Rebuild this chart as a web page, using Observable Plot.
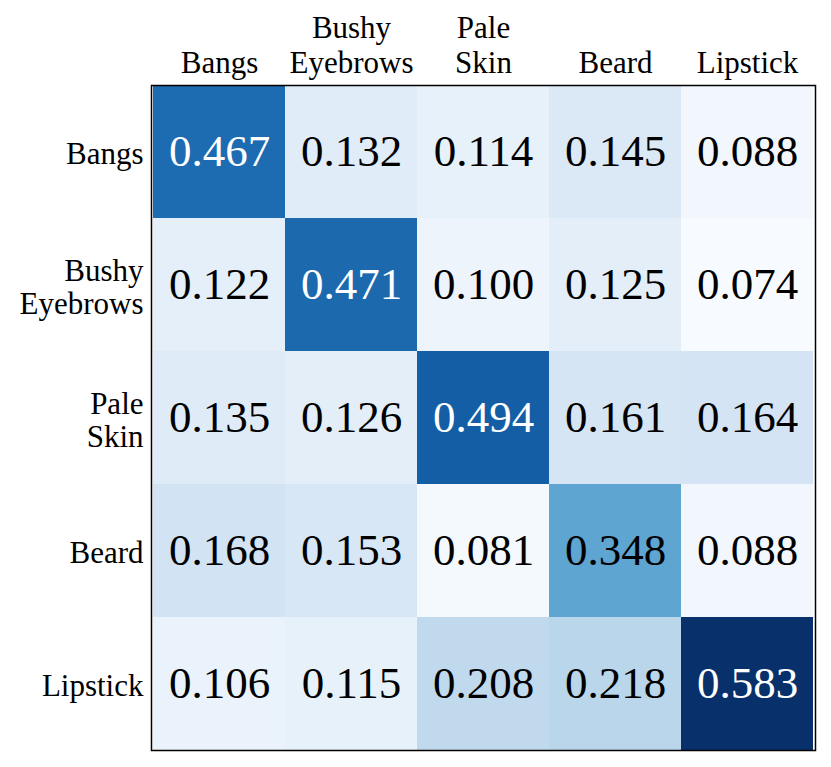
<!DOCTYPE html>
<html><head><meta charset="utf-8">
<script src="https://cdn.jsdelivr.net/npm/d3@7"></script>
<script src="https://cdn.jsdelivr.net/npm/@observablehq/plot@0.6"></script>
<style>body{margin:0;background:#fff;}</style>
</head><body><div id="chart"></div>
<script>
const categories = ["Bangs", "Bushy Eyebrows", "Pale Skin", "Beard", "Lipstick"];
const tickLabels = ["Bangs", "Bushy\nEyebrows", "Pale\nSkin", "Beard", "Lipstick"];
const rowBangs = [0.467, 0.132, 0.114, 0.145, 0.088];
const rowBushyEyebrows = [0.122, 0.471, 0.100, 0.125, 0.074];
const rowPaleSkin = [0.135, 0.126, 0.494, 0.161, 0.164];
const rowBeard = [0.168, 0.153, 0.081, 0.348, 0.088];
const rowLipstick = [0.106, 0.115, 0.208, 0.218, 0.583];
const rows = [rowBangs, rowBushyEyebrows, rowPaleSkin, rowBeard, rowLipstick];
const whiteTextAbove = 0.4;

const data = [];
rows.forEach((vals, i) => vals.forEach((v, j) => data.push({row: categories[i], col: categories[j], value: v})));
const values = data.map(d => d.value);
const labelOf = new Map(categories.map((c, i) => [c, tickLabels[i]]));
const font = "'Liberation Serif', 'Times New Roman', Times, serif";

const chart = Plot.plot({
  width: 831, height: 767,
  marginLeft: 151, marginRight: 16, marginTop: 85, marginBottom: 17,
  style: {fontFamily: font, background: "white", color: "black"},
  x: {domain: categories, padding: 0, axis: null, label: null},
  y: {domain: categories, padding: 0, axis: null, label: null},
  color: {type: "linear", scheme: "blues", domain: [d3.min(values), d3.max(values)]},
  marks: [
    Plot.cell(data, {x: "col", y: "row", fill: "value", inset: 0}),
    Plot.text(data, {x: "col", y: "row", text: d => d.value.toFixed(3), filter: d => d.value > whiteTextAbove, fill: "white", fontSize: 45, fontFamily: font}),
    Plot.text(data, {x: "col", y: "row", text: d => d.value.toFixed(3), filter: d => d.value <= whiteTextAbove, fill: "black", fontSize: 45, fontFamily: font}),
    Plot.frame({stroke: "black", strokeWidth: 1.5}),
    Plot.axisX({anchor: "top", label: null, tickSize: 0, tickPadding: 13, fontSize: 31, fontFamily: font, lineHeight: 1.1, tickFormat: d => labelOf.get(d)}),
    Plot.axisY({anchor: "left", label: null, tickSize: 0, tickPadding: 8, fontSize: 31, fontFamily: font, lineHeight: 1.05, dy: 2, tickFormat: d => labelOf.get(d)})
  ]
});
document.getElementById("chart").appendChild(chart);
</script>
</body></html>
